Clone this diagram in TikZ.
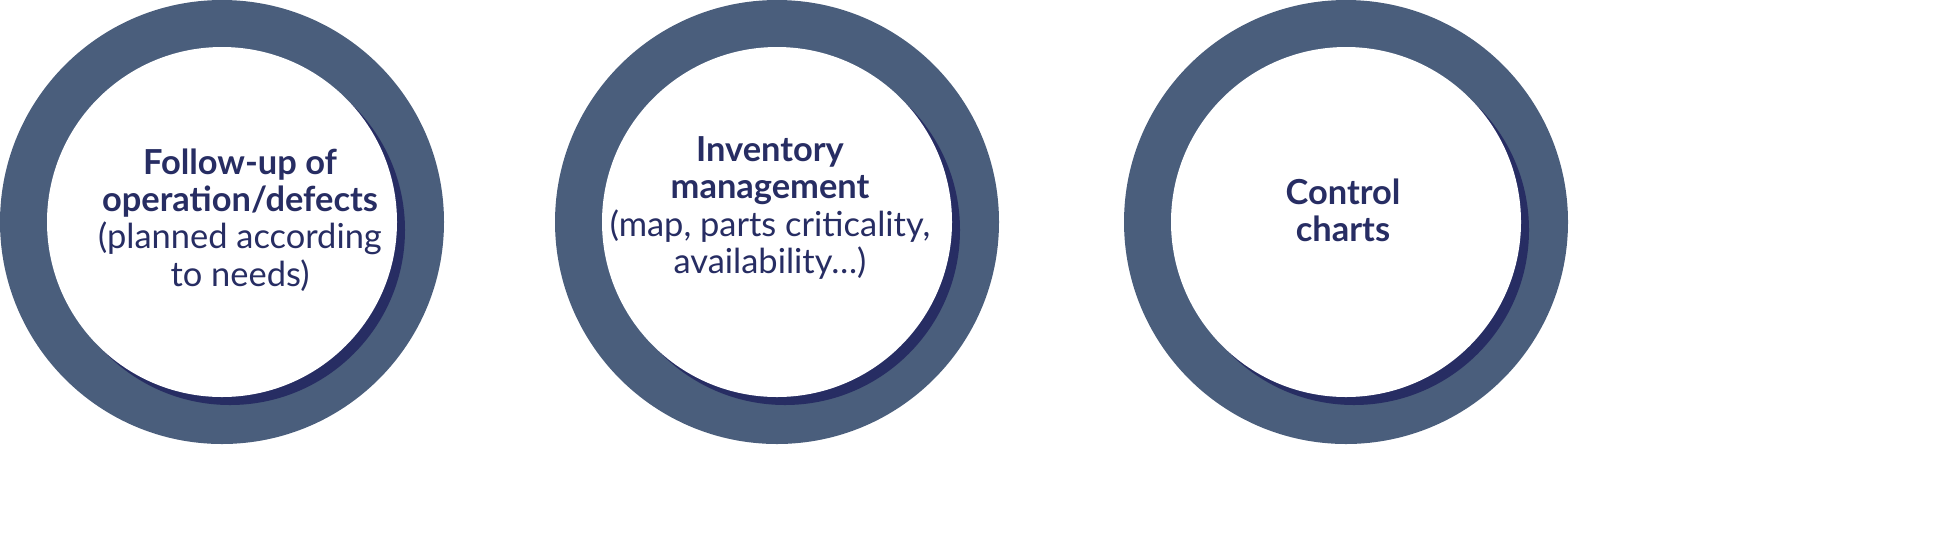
\documentclass[tikz,border=0pt]{standalone}
\usepackage{fontspec}
\setmainfont{Lato}
\begin{document}
\begin{tikzpicture}[x=0.1mm,y=-0.1mm]
\definecolor{ring}{HTML}{4A5E7C}
\definecolor{shadowcol}{HTML}{272D63}
\definecolor{txt}{HTML}{272D63}
\tikzset{lbl/.style={text=txt,align=center,font=\fontsize{9.8}{10.6}\selectfont}}
\useasboundingbox (0,0) rectangle (1950,553);
\foreach \cx/\n in {222/a,777/b,1346/c}{
  \fill[ring] (\cx,222) circle (222);
  \fill[shadowcol] (\cx+8,230) circle (175);
  \fill[white] (\cx,222) circle (175);
}
\node[lbl] (t1) at (240,220) {\textbf{Follow-up of}\\\textbf{operation/defects}\\(planned according\\to needs)};
\node[lbl] (t2) at (770,208) {\textbf{Inventory}\\\textbf{management}\\(map, parts criticality,\\availability\ldots)};
\node[lbl] (t3) at (1343,210) {\textbf{Control}\\\textbf{charts}};
\end{tikzpicture}
\end{document}
